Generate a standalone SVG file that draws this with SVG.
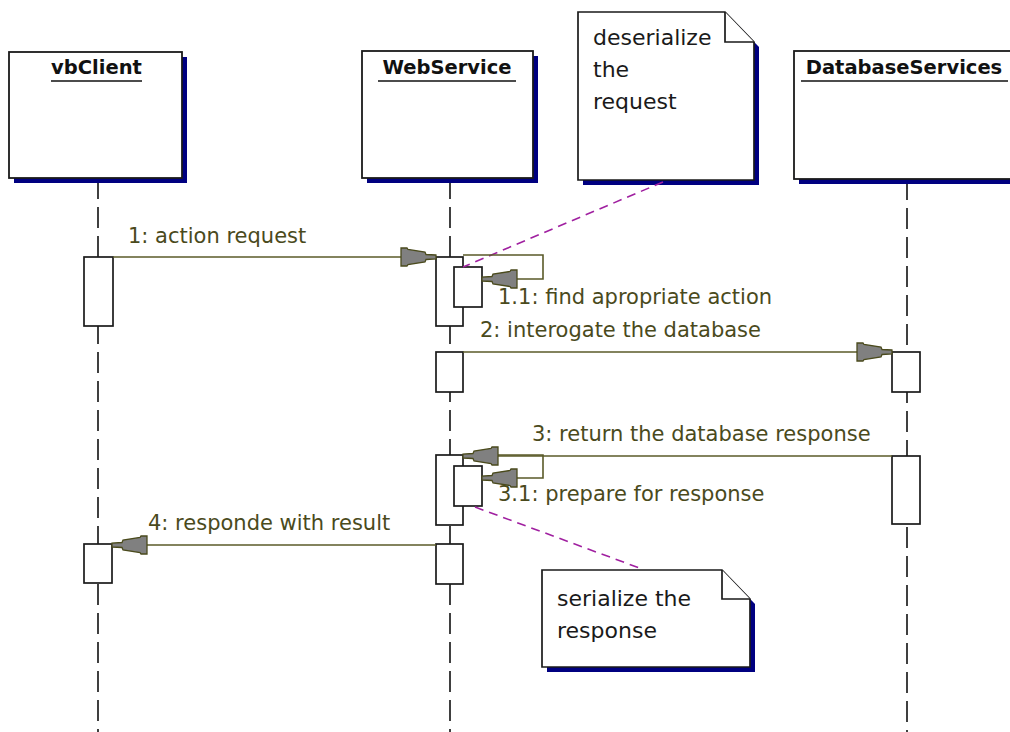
<svg xmlns="http://www.w3.org/2000/svg" width="1010" height="732" viewBox="0 0 1010 732">
  <style>
    .box { fill: #ffffff; stroke: #1a1a1a; stroke-width: 1.8; }
    .shadow { fill: #000080; stroke: none; }
    .title { font-family: "DejaVu Sans", "Liberation Sans", sans-serif; font-size: 19.5px; font-weight: bold; fill: #111111; text-anchor: middle; }
    .uline { stroke: #111111; stroke-width: 1.6; }
    .life { stroke: #111111; stroke-width: 1.6; stroke-dasharray: 21 8; fill: none; }
    .act { fill: #ffffff; stroke: #1a1a1a; stroke-width: 1.7; }
    .msg { stroke: #5a5a28; stroke-width: 1.6; fill: none; }
    .lbl { font-family: "DejaVu Sans", "Liberation Sans", sans-serif; font-size: 21px; fill: #4a4a1c; }
    .note { fill: #ffffff; stroke: #1a1a1a; stroke-width: 1.7; stroke-linejoin: miter; }
    .ntext { font-family: "DejaVu Sans", "Liberation Sans", sans-serif; font-size: 22px; fill: #1a1a1a; }
    .anchor { stroke: #a020a0; stroke-width: 1.6; stroke-dasharray: 9 6; fill: none; }
  </style>
  <defs>
    <!-- funnel-shaped filled arrowhead, tip at the origin -->
    <marker id="arrow" viewBox="-36 -11 37 22" refX="0" refY="0" markerWidth="37" markerHeight="22" markerUnits="userSpaceOnUse" orient="auto">
      <path d="M0,-2 L-10,-2.5 L-11,-5 L-28,-7.5 L-29,-9 L-35,-9 L-35,9 L-29,9 L-28,7.5 L-11,5 L-10,2.5 L0,2 Z" fill="#808080" stroke="#4a4a1c" stroke-width="1.3"/>
    </marker>
  </defs>
  <rect width="1010" height="732" fill="#ffffff"/>

  <!-- lifelines -->
  <g id="lifelines">
    <line class="life" x1="98" y1="178" x2="98" y2="732"/>
    <line class="life" x1="450" y1="178" x2="450" y2="732"/>
    <line class="life" x1="907" y1="179" x2="907" y2="732"/>
  </g>

  <!-- object boxes -->
  <g id="vbClient">
    <rect class="shadow" x="14" y="57" width="173" height="126"/>
    <rect class="box" x="9" y="52" width="173" height="126"/>
    <text class="title" x="96.5" y="74">vbClient</text>
    <line class="uline" x1="51" y1="81" x2="142" y2="81"/>
  </g>
  <g id="WebService">
    <rect class="shadow" x="367" y="56" width="171" height="127"/>
    <rect class="box" x="362" y="51" width="171" height="127"/>
    <text class="title" x="447" y="74">WebService</text>
    <line class="uline" x1="378" y1="81" x2="516" y2="81"/>
  </g>
  <g id="DatabaseServices">
    <rect class="shadow" x="799" y="56" width="230" height="128"/>
    <rect class="box" x="794" y="51" width="230" height="128"/>
    <text class="title" x="904" y="74">DatabaseServices</text>
    <line class="uline" x1="801" y1="81" x2="1008" y2="81"/>
  </g>

  <!-- activation bars -->
  <g id="activations">
    <rect class="act" x="84" y="257" width="29" height="69"/>
    <rect class="act" x="84" y="544" width="28" height="39"/>
    <rect class="act" x="436" y="257" width="27" height="69"/>
    <rect class="act" x="454" y="267" width="28" height="40"/>
    <rect class="act" x="436" y="352" width="27" height="40"/>
    <rect class="act" x="436" y="455" width="27" height="70"/>
    <rect class="act" x="454" y="466" width="28" height="40"/>
    <rect class="act" x="436" y="544" width="27" height="40"/>
    <rect class="act" x="892" y="352" width="28" height="40"/>
    <rect class="act" x="892" y="456" width="28" height="68"/>
  </g>

  <!-- notes -->
  <g id="note-deserialize">
    <polygon class="shadow" points="583,17 730,17 759,47 759,185 583,185"/>
    <polygon class="note" points="578,12 725,12 754,42 754,180 578,180"/>
    <polyline class="note" points="725,12 725,42 754,42" fill="none"/>
    <text class="ntext" x="593" y="45">deserialize</text>
    <text class="ntext" x="593" y="77">the</text>
    <text class="ntext" x="593" y="109">request</text>
  </g>
  <g id="note-serialize">
    <polygon class="shadow" points="547,575 727,575 755,604 755,672 547,672"/>
    <polygon class="note" points="542,570 722,570 750,599 750,667 542,667"/>
    <polyline class="note" points="722,570 722,599 750,599" fill="none"/>
    <text class="ntext" x="557" y="606">serialize the</text>
    <text class="ntext" x="557" y="638">response</text>
  </g>

  <!-- messages and note anchors -->
  <g id="connectors">
    <line class="anchor" x1="663" y1="182" x2="463" y2="267"/>
    <line class="anchor" x1="475" y1="507" x2="642" y2="569"/>

    <line class="msg" x1="113" y1="257" x2="436" y2="257" marker-end="url(#arrow)"/>
    <polyline class="msg" points="463,255 543,255 543,279 482,279" marker-end="url(#arrow)"/>
    <line class="msg" x1="463" y1="352" x2="892" y2="352" marker-end="url(#arrow)"/>
    <polyline class="msg" points="463,455 543,455 543,478 482,478" marker-end="url(#arrow)"/>
    <line class="msg" x1="892" y1="456" x2="463" y2="456" marker-end="url(#arrow)"/>
    <line class="msg" x1="436" y1="545" x2="112" y2="545" marker-end="url(#arrow)"/>

    <text class="lbl" x="128" y="243">1: action request</text>
    <text class="lbl" x="498" y="304">1.1: find apropriate action</text>
    <text class="lbl" x="480" y="337">2: interogate the database</text>
    <text class="lbl" x="532" y="441">3: return the database response</text>
    <text class="lbl" x="498" y="501">3.1: prepare for response</text>
    <text class="lbl" x="148" y="530">4: responde with result</text>
  </g>
</svg>
